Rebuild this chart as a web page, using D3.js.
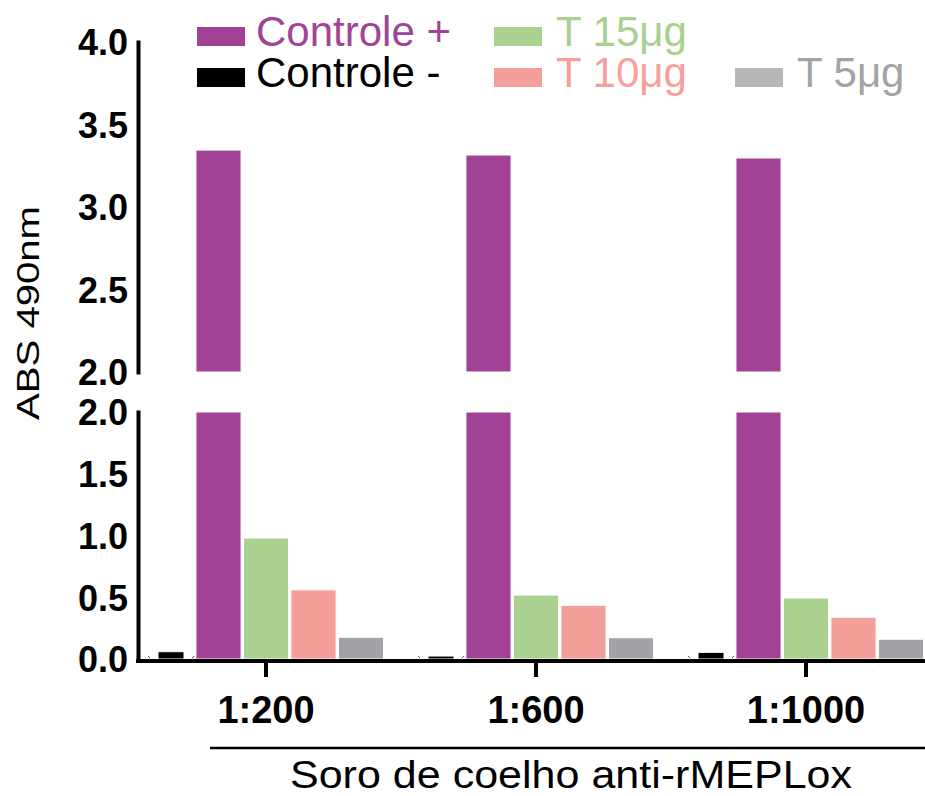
<!DOCTYPE html>
<html>
<head>
    <title>ABS 490nm</title>
    <style>
        body { margin: 0; background: #fff; }
        text { font-family: "Liberation Sans", Arial, sans-serif; }
    </style>
</head>
<body>
    <script type="text/javascript" src="https://d3js.org/d3.v7.min.js"></script>
    <div id="chart"></div>
    <script>
        // dilutions and the five series (ABS 490nm)
        var groups = ["1:200", "1:600", "1:1000"];
        var seriesNames = ["Controle -", "Controle +", "T 15μg", "T 10μg", "T 5μg"];
        var controleNeg = [0.059, 0.024, 0.054];
        var controlePos = [3.345, 3.315, 3.297];
        var t15 = [0.98, 0.518, 0.494];
        var t10 = [0.56, 0.435, 0.338];
        var t5 = [0.176, 0.172, 0.16];
        var upperTicks = [2.0, 2.5, 3.0, 3.5, 4.0];
        var lowerTicks = [0.0, 0.5, 1.0, 1.5, 2.0];

        var barColor = ["#000000", "#a14296", "#abd191", "#f49f9a", "#a3a2a7"];
        var textColor = ["#000000", "#a14497", "#a9d08f", "#f5a09c", "#a3a3a6"];
        var swatchColor = ["#000000", "#a14296", "#abd191", "#f49f9a", "#b7b7b9"];

        var width = 925, height = 796;
        var axisX = 138;

        var svg = d3.select("#chart").append("svg")
            .attr("width", width).attr("height", height);

        var values = [controleNeg, controlePos, t15, t10, t5];
        var data = [];
        groups.forEach(function(g, i) {
            seriesNames.forEach(function(s, k) {
                data.push({ group: g, series: s, k: k, value: values[k][i] });
            });
        });

        var x0 = d3.scaleBand().domain(groups).range([131, 941]).padding(0);
        var x1 = d3.scaleBand().domain(seriesNames).range([0, 237.5]).padding(0);
        var yUp = d3.scaleLinear().domain([2, 4]).range([372, 42]);
        var yLow = d3.scaleLinear().domain([0, 2]).range([659, 412]);

        function barCenter(d) {
            return x0(d.group) + (x0.bandwidth() - 237.5) / 2 + x1(d.series) + x1.bandwidth() / 2;
        }
        function barW(d) {
            return d.k === 0 ? 26 : x1.bandwidth() * 0.95;
        }

        // lower part of bars
        svg.append("g").selectAll("rect")
            .data(data)
            .enter().append("rect")
            .attr("x", function(d) { return barCenter(d) - barW(d) / 2; })
            .attr("width", barW)
            .attr("y", function(d) { return yLow(Math.min(d.value, 2)); })
            .attr("height", function(d) { return yLow(0) - yLow(Math.min(d.value, 2)); })
            .attr("fill", function(d) { return barColor[d.k]; })
            .attr("stroke", "#fff").attr("stroke-width", 1);

        // upper part of bars (above the break)
        svg.append("g").selectAll("rect")
            .data(data.filter(function(d) { return d.value > 2; }))
            .enter().append("rect")
            .attr("x", function(d) { return barCenter(d) - barW(d) / 2; })
            .attr("width", barW)
            .attr("y", function(d) { return yUp(d.value); })
            .attr("height", function(d) { return yUp(2) - yUp(d.value); })
            .attr("fill", function(d) { return barColor[d.k]; })
            .attr("stroke", "#fff").attr("stroke-width", 1);

        // tiny marks beside the black bars
        svg.append("g").selectAll("path")
            .data(data.filter(function(d) { return d.k === 0; }))
            .enter().append("path")
            .attr("d", function(d) {
                var c = barCenter(d);
                return "M" + (c - 23) + ",656l2,2M" + (c + 21) + ",658l2,-2";
            })
            .attr("stroke", "#555").attr("stroke-width", 1).attr("fill", "none");

        // y axes, broken
        var fmt = d3.format(".1f");
        [[yUp, upperTicks], [yLow, lowerTicks]].forEach(function(a) {
            var ax = svg.append("g")
                .attr("transform", "translate(" + axisX + ",0)")
                .call(d3.axisLeft(a[0]).tickValues(a[1]).tickFormat(fmt).tickSize(0).tickPadding(10));
            ax.select(".domain").attr("stroke", "#000").attr("stroke-width", 4).attr("stroke-linecap", "square");
            ax.selectAll("text")
                .attr("font-family", "Liberation Sans")
                .attr("font-weight", "bold")
                .attr("font-size", 36)
                .attr("fill", "#000")
                .attr("dy", "0.36em");
        });

        // x axis
        var xAxis = svg.append("g")
            .attr("transform", "translate(0,661)")
            .call(d3.axisBottom(x0).tickSize(16).tickSizeOuter(0).tickPadding(19));
        xAxis.select(".domain").attr("d", "M" + (axisX - 2) + ",0H" + width)
            .attr("stroke", "#000").attr("stroke-width", 4);
        xAxis.selectAll(".tick line").attr("stroke", "#000").attr("stroke-width", 4);
        xAxis.selectAll("text")
            .attr("font-family", "Liberation Sans")
            .attr("font-weight", "bold")
            .attr("font-size", 38)
            .attr("fill", "#000");

        // bracket line and x title
        svg.append("line")
            .attr("x1", 210).attr("x2", width)
            .attr("y1", 748).attr("y2", 748)
            .attr("stroke", "#000").attr("stroke-width", 2.5);
        svg.append("text")
            .attr("x", 571).attr("y", 788)
            .attr("text-anchor", "middle")
            .attr("font-size", 38)
            .attr("textLength", 562)
            .attr("lengthAdjust", "spacingAndGlyphs")
            .text("Soro de coelho anti-rMEPLox");

        // y title
        svg.append("text")
            .attr("transform", "translate(39,313) rotate(-90)")
            .attr("text-anchor", "middle")
            .attr("font-size", 31)
            .attr("textLength", 214)
            .attr("lengthAdjust", "spacingAndGlyphs")
            .text("ABS 490nm");

        // legend
        var legendSlots = [[0, 1], [0, 0], [1, 0], [1, 1], [2, 1]];
        var colX = [197, 494, 735];
        var rowY = [27, 68];
        var legend = svg.append("g").selectAll("g")
            .data(seriesNames)
            .enter().append("g")
            .attr("transform", function(d, i) {
                return "translate(" + colX[legendSlots[i][0]] + "," + rowY[legendSlots[i][1]] + ")";
            });
        legend.append("rect")
            .attr("width", 48).attr("height", 19)
            .attr("fill", function(d, i) { return swatchColor[i]; });
        legend.append("text")
            .attr("x", function(d, i) { return legendSlots[i][0] === 0 ? 59 : 62; })
            .attr("y", 19)
            .attr("font-size", 42)
            .attr("fill", function(d, i) { return textColor[i]; })
            .text(function(d) { return d; });
    </script>
</body>
</html>
